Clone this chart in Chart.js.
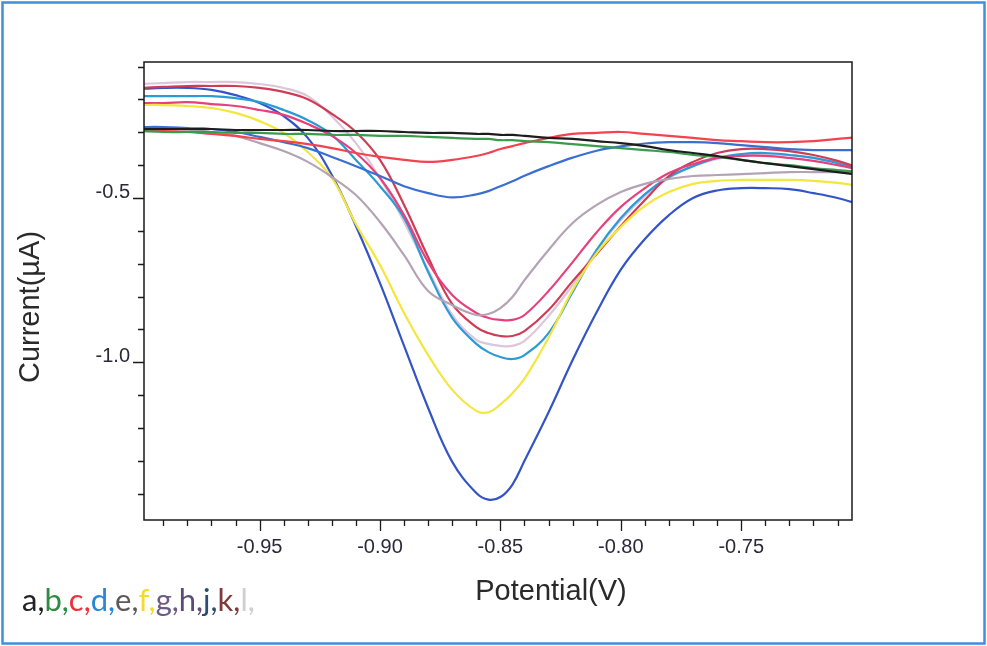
<!DOCTYPE html>
<html>
<head>
<meta charset="utf-8">
<script src="https://cdn.jsdelivr.net/npm/chart.js@4/dist/chart.umd.min.js"></script>
<style>
  html, body { margin: 0; padding: 0; background: #ffffff; }
  #wrap { position: relative; width: 987px; height: 646px; }
  canvas { display: block; }
</style>
</head>
<body>
<div id="wrap"><canvas id="c" width="987" height="646"></canvas></div>
<script>
// Potential (V) sampled for every voltammogram
const potentials = [-1.00, -0.99, -0.98, -0.97, -0.96, -0.95, -0.94, -0.93, -0.92, -0.91, -0.90,
  -0.89, -0.88, -0.87, -0.86, -0.855, -0.85, -0.845, -0.84, -0.83, -0.82, -0.81, -0.80,
  -0.79, -0.78, -0.77, -0.76, -0.75, -0.74, -0.73, -0.72, -0.71, -0.70];

// Current (µA) of each curve at those potentials
const curveBlack = [-0.290, -0.290, -0.290, -0.290, -0.293, -0.293, -0.293, -0.293, -0.296, -0.296, -0.296,
  -0.299, -0.302, -0.302, -0.305, -0.305, -0.308, -0.308, -0.311, -0.317, -0.320, -0.327, -0.333,
  -0.342, -0.354, -0.363, -0.372, -0.384, -0.394, -0.403, -0.412, -0.421, -0.430];
const curveGreen = [-0.296, -0.299, -0.299, -0.299, -0.302, -0.302, -0.305, -0.305, -0.308, -0.308, -0.311,
  -0.311, -0.314, -0.317, -0.320, -0.320, -0.324, -0.324, -0.327, -0.330, -0.336, -0.342, -0.348,
  -0.354, -0.360, -0.369, -0.375, -0.384, -0.394, -0.400, -0.409, -0.415, -0.421];
const curveRed = [-0.296, -0.296, -0.299, -0.305, -0.311, -0.320, -0.327, -0.336, -0.348, -0.363, -0.375,
  -0.384, -0.390, -0.384, -0.372, -0.363, -0.351, -0.342, -0.333, -0.317, -0.305, -0.302, -0.299,
  -0.305, -0.311, -0.317, -0.324, -0.327, -0.330, -0.330, -0.327, -0.320, -0.314];
const curveBlue = [-0.284, -0.284, -0.287, -0.290, -0.299, -0.314, -0.330, -0.348, -0.375, -0.403, -0.433,
  -0.464, -0.485, -0.498, -0.489, -0.479, -0.464, -0.449, -0.432, -0.403, -0.377, -0.356, -0.343,
  -0.334, -0.330, -0.330, -0.333, -0.339, -0.345, -0.351, -0.354, -0.354, -0.354];
const curveGrey = [-0.290, -0.290, -0.293, -0.299, -0.311, -0.333, -0.357, -0.390, -0.436, -0.491, -0.573,
  -0.674, -0.783, -0.826, -0.856, -0.853, -0.835, -0.801, -0.750, -0.658, -0.576, -0.521, -0.482,
  -0.457, -0.442, -0.433, -0.430, -0.427, -0.424, -0.421, -0.421, -0.421, -0.421];
const curveYellow = [-0.217, -0.217, -0.220, -0.226, -0.241, -0.266, -0.302, -0.360, -0.439, -0.579, -0.704,
  -0.850, -0.978, -1.084, -1.148, -1.152, -1.128, -1.094, -1.050, -0.925, -0.780, -0.667, -0.588,
  -0.524, -0.482, -0.457, -0.448, -0.445, -0.445, -0.445, -0.448, -0.454, -0.464];
const curveMagenta = [-0.211, -0.211, -0.208, -0.214, -0.220, -0.232, -0.247, -0.275, -0.311, -0.363, -0.439,
  -0.552, -0.695, -0.795, -0.850, -0.865, -0.871, -0.871, -0.856, -0.783, -0.695, -0.604, -0.527,
  -0.470, -0.424, -0.397, -0.378, -0.372, -0.372, -0.378, -0.387, -0.400, -0.415];
const curveCrimson = [-0.165, -0.162, -0.159, -0.159, -0.159, -0.165, -0.177, -0.199, -0.244, -0.299, -0.384,
  -0.521, -0.680, -0.823, -0.893, -0.911, -0.920, -0.920, -0.905, -0.841, -0.753, -0.670, -0.585,
  -0.506, -0.433, -0.390, -0.363, -0.351, -0.351, -0.357, -0.369, -0.387, -0.412];
const curveCyan = [-0.190, -0.190, -0.190, -0.190, -0.196, -0.208, -0.232, -0.263, -0.308, -0.384, -0.464,
  -0.561, -0.725, -0.865, -0.944, -0.969, -0.984, -0.990, -0.978, -0.911, -0.786, -0.658, -0.561,
  -0.488, -0.436, -0.403, -0.378, -0.366, -0.363, -0.369, -0.378, -0.394, -0.415];
const curveLilac = [-0.153, -0.150, -0.147, -0.147, -0.147, -0.153, -0.165, -0.190, -0.251, -0.333, -0.439,
  -0.573, -0.719, -0.856, -0.932, -0.944, -0.950, -0.950, -0.935, -0.859, -0.765, -0.658, -0.567,
  -0.494, -0.439, -0.403, -0.381, -0.369, -0.366, -0.369, -0.378, -0.390, -0.406];
const curveRoyal = [-0.168, -0.165, -0.165, -0.171, -0.187, -0.211, -0.251, -0.317, -0.430, -0.585, -0.759,
  -0.950, -1.139, -1.303, -1.398, -1.418, -1.410, -1.372, -1.300, -1.152, -0.993, -0.847, -0.718,
  -0.625, -0.552, -0.500, -0.477, -0.470, -0.470, -0.473, -0.485, -0.500, -0.521];

// Axis ticks
const xMajorTicks = [-0.95, -0.90, -0.85, -0.80, -0.75];
const xMinorTicks = [-0.99, -0.98, -0.97, -0.96, -0.94, -0.93, -0.92, -0.91, -0.89, -0.88, -0.87, -0.86,
  -0.84, -0.83, -0.82, -0.81, -0.79, -0.78, -0.77, -0.76, -0.74, -0.73, -0.72, -0.71];
const yMajorTicks = [-1.0, -0.5];
const yMinorTicks = [-1.4, -1.3, -1.2, -1.1, -0.9, -0.8, -0.7, -0.6, -0.4, -0.3, -0.2, -0.1];

// Series label letters and their colours
const legendLetters = ['a', 'b', 'c', 'd', 'e', 'f', 'g', 'h', 'j', 'k', 'l'];
const legendColors = ['#222222', '#2f8a43', '#e8323c', '#2b86d6', '#5a5a5a', '#f2dc2a',
  '#6c5c84', '#5a4c74', '#2e4c72', '#7c3c3c', '#cfcfcf'];

const series = [
  { data: curveBlack,   color: '#1d1d1d' },
  { data: curveGreen,   color: '#3b9a4c' },
  { data: curveRed,     color: '#f2434f' },
  { data: curveBlue,    color: '#3a6fd2' },
  { data: curveGrey,    color: '#b4a3b4' },
  { data: curveYellow,  color: '#f4e63c' },
  { data: curveMagenta, color: '#e5417c' },
  { data: curveCrimson, color: '#cf3d55' },
  { data: curveCyan,    color: '#2b9bd6' },
  { data: curveLilac,   color: '#dcc6dc' },
  { data: curveRoyal,   color: '#3354c6' }
];

const decor = {
  id: 'decor',
  beforeDraw(chart) {
    const ctx = chart.ctx;
    ctx.save();
    ctx.fillStyle = '#ffffff';
    ctx.fillRect(0, 0, chart.width, chart.height);
    ctx.strokeStyle = '#3f90dc';
    ctx.lineWidth = 2.5;
    ctx.strokeRect(2.5, 2.5, chart.width - 5, chart.height - 5);
    ctx.restore();
  },
  afterDraw(chart) {
    const { ctx, chartArea: a, scales } = chart;
    const x = scales.x, y = scales.y;
    ctx.save();
    ctx.strokeStyle = '#1a1a1a';
    ctx.lineWidth = 1.5;
    ctx.strokeRect(a.left, a.top, a.right - a.left, a.bottom - a.top);

    ctx.lineWidth = 1.3;
    ctx.beginPath();
    xMajorTicks.forEach(v => { const px = Math.round(x.getPixelForValue(v)) + 0.5; ctx.moveTo(px, a.bottom); ctx.lineTo(px, a.bottom + 11); });
    xMinorTicks.forEach(v => { const px = Math.round(x.getPixelForValue(v)) + 0.5; ctx.moveTo(px, a.bottom); ctx.lineTo(px, a.bottom + 6); });
    yMajorTicks.forEach(v => { const py = Math.round(y.getPixelForValue(v)) + 0.5; ctx.moveTo(a.left, py); ctx.lineTo(a.left - 11, py); });
    yMinorTicks.forEach(v => { const py = Math.round(y.getPixelForValue(v)) + 0.5; ctx.moveTo(a.left, py); ctx.lineTo(a.left - 6, py); });
    ctx.stroke();

    // axis titles
    ctx.fillStyle = '#2a2a2a';
    ctx.font = '29px "Liberation Sans", Arial, sans-serif';
    ctx.textAlign = 'center';
    ctx.textBaseline = 'middle';
    ctx.fillText('Potential(V)', 551, 592);
    ctx.save();
    ctx.translate(31, 307);
    ctx.rotate(-Math.PI / 2);
    ctx.fillText('Current(\u00b5A)', 0, 0);
    ctx.restore();

    // series letters
    ctx.font = '31px Lato, "Open Sans", sans-serif';
    ctx.textAlign = 'left';
    ctx.textBaseline = 'alphabetic';
    let cx = 22;
    legendLetters.forEach((ch, i) => {
      const s = ch + ',';
      ctx.fillStyle = legendColors[i];
      ctx.fillText(s, cx, 611);
      cx += ctx.measureText(s).width;
    });
    ctx.restore();
  }
};

new Chart(document.getElementById('c'), {
  type: 'line',
  data: {
    datasets: series.map(s => ({
      data: potentials.map((p, i) => ({ x: p, y: s.data[i] })),
      borderColor: s.color,
      borderWidth: 2.2,
      pointRadius: 0,
      fill: false,
      tension: 0.4
    }))
  },
  options: {
    responsive: false,
    animation: false,
    devicePixelRatio: 1,
    layout: { padding: { left: 0, top: 62, right: 135, bottom: 0 } },
    plugins: { legend: { display: false }, tooltip: { enabled: false } },
    scales: {
      x: {
        type: 'linear',
        min: -0.998,
        max: -0.704,
        grid: { display: false, drawTicks: false },
        border: { display: false },
        afterBuildTicks: scale => { scale.ticks = xMajorTicks.map(v => ({ value: v })); },
        afterFit: scale => { scale.height = 646 - 520; },
        ticks: {
          color: '#2b2838',
          font: { family: '"Liberation Sans", Arial, sans-serif', size: 20 },
          padding: 15,
          maxRotation: 0,
          autoSkip: false,
          callback: v => v.toFixed(2)
        }
      },
      y: {
        type: 'linear',
        min: -1.480,
        max: -0.086,
        grid: { display: false, drawTicks: false },
        border: { display: false },
        afterBuildTicks: scale => { scale.ticks = yMajorTicks.map(v => ({ value: v })); },
        afterFit: scale => { scale.width = 144; },
        ticks: {
          color: '#2b2838',
          font: { family: '"Liberation Sans", Arial, sans-serif', size: 20 },
          padding: 14,
          labelOffset: -6,
          autoSkip: false,
          callback: v => v.toFixed(1)
        }
      }
    }
  },
  plugins: [decor]
});
</script>
</body>
</html>
